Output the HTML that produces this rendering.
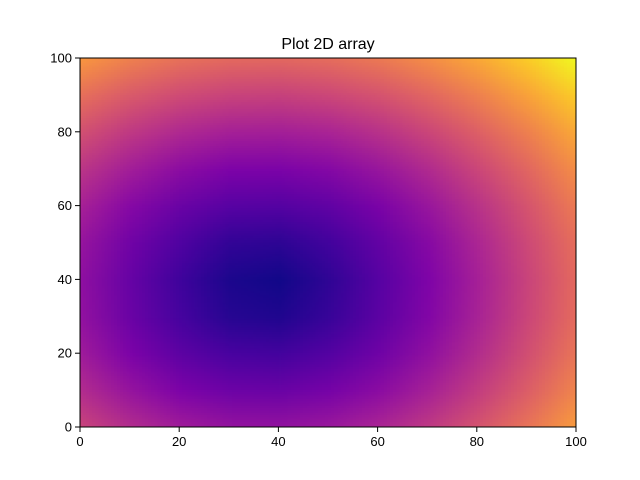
<!DOCTYPE html>
<html><head><meta charset="utf-8"><style>
body{margin:0;background:#fff;width:640px;height:480px;overflow:hidden;font-family:"Liberation Sans",sans-serif;}
#plot{position:absolute;left:80px;top:58px;width:496px;height:369px;overflow:hidden;}
#cv{position:absolute;image-rendering:auto;}
svg{position:absolute;left:0;top:0;}
</style></head><body>
<div id="plot"><canvas id="cv" width="11" height="11"></canvas></div>
<svg id="ov" width="640" height="480"></svg>
<script>
const xCoords=[0,10,20,30,40,50,60,70,80,90,100];
const yCoords=[0,10,20,30,40,50,60,70,80,90,100];
// rows from y=0 to y=100
const zValues=[
[281,217,173,149,145,161,197,253,329,425,541],
[215,151,107,83,79,95,131,187,263,359,475],
[169,105,61,37,33,49,85,141,217,313,429],
[143,79,35,11,7,23,59,115,191,287,403],
[137,73,29,5,1,17,53,109,185,281,397],
[151,87,43,19,15,31,67,123,199,295,411],
[185,121,77,53,49,65,101,157,233,329,445],
[239,175,131,107,103,119,155,211,287,383,499],
[313,249,205,181,177,193,229,285,361,457,573],
[407,343,299,275,271,287,323,379,455,551,667],
[521,457,413,389,385,401,437,493,569,665,781]];
const xTicks=[0,20,40,60,80,100];
const yTicks=[0,20,40,60,80,100];
const titleText="Plot 2D array";

const L=80,T=58,W=496,H=369;
const xs=v=>L+W*(v-0)/100, ys=v=>T+H-H*(v-0)/100;
const stops=[[13,8,135],[76,2,161],[126,3,168],[169,35,149],[204,71,120],[229,107,93],[248,148,65],[253,195,40],[240,249,33]];
function cmap(t){t=Math.max(0,Math.min(1,t));const p=t*(stops.length-1),i=Math.min(stops.length-2,Math.floor(p)),f=p-i;
return stops[i].map((c,k)=>Math.round(c+(stops[i+1][k]-c)*f));}
let zmin=Infinity,zmax=-Infinity;zValues.forEach(r=>r.forEach(v=>{zmin=Math.min(zmin,v);zmax=Math.max(zmax,v);}));
const cv=document.getElementById('cv'),ctx=cv.getContext('2d');
const nx=xCoords.length,ny=yCoords.length;cv.width=nx;cv.height=ny;
const img=ctx.createImageData(nx,ny);
for(let j=0;j<ny;j++)for(let i=0;i<nx;i++){
 const t=Math.pow((zValues[j][i]-0)/(zmax-0),0.7);const c=cmap(t);
 const idx=((ny-1-j)*nx+i)*4;img.data[idx]=c[0];img.data[idx+1]=c[1];img.data[idx+2]=c[2];img.data[idx+3]=255;}
ctx.putImageData(img,0,0);
const cw=W/(nx-1),ch=H/(ny-1);
cv.style.width=(cw*nx)+'px';cv.style.height=(ch*ny)+'px';cv.style.left=(-cw/2)+'px';cv.style.top=(-ch/2)+'px';

const svg=document.getElementById('ov'),NS='http://www.w3.org/2000/svg';
function mk(tag,attrs,txt){const e=document.createElementNS(NS,tag);for(const k in attrs)e.setAttribute(k,attrs[k]);if(txt!==undefined)e.textContent=txt;svg.appendChild(e);return e;}
let e=mk('rect',{x:L,y:T,width:W,height:H,fill:'none',stroke:'#000','stroke-width':1});


xTicks.forEach(v=>{
 let t=mk('line',{x1:xs(v),x2:xs(v),y1:T+H,y2:T+H+5,stroke:'#000'});
 
 
 let l=mk('text',{x:xs(v),y:T+H+19,'text-anchor':'middle','font-size':'13px'},String(v));
 
 
});
yTicks.forEach(v=>{
 let t=mk('line',{x1:L-5,x2:L,y1:ys(v),y2:ys(v),stroke:'#000'});
 
 
 let l=mk('text',{x:L-8,y:ys(v)+4.5,'text-anchor':'end','font-size':'13px'},String(v));
 
 
});
let tt=mk('text',{x:L+W/2,y:T-9,'text-anchor':'middle','font-size':'16px'},titleText);


</script>
</body></html>
